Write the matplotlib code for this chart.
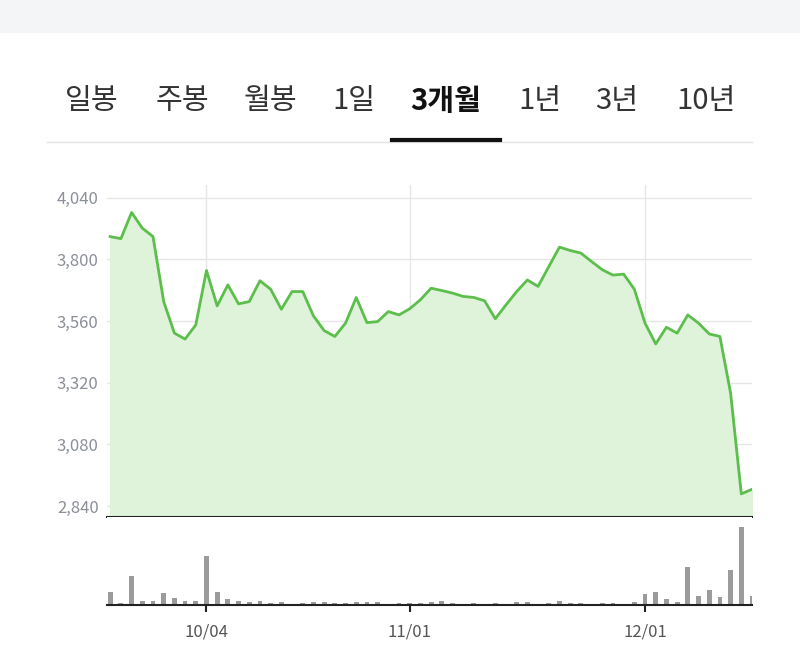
import matplotlib as mpl
import matplotlib.pyplot as plt
from matplotlib.patches import Rectangle

mpl.use('Agg')
plt.rcParams['font.family'] = ['Noto Sans CJK KR', 'DejaVu Sans']

# 종가 (61 거래일)
prices = [3889, 3881, 3983, 3922, 3889, 3636, 3513, 3490, 3545, 3757,
          3619, 3701, 3627, 3636, 3717, 3684, 3606, 3675, 3675, 3580,
          3523, 3500, 3552, 3652, 3554, 3558, 3597, 3584, 3608, 3643,
          3688, 3679, 3669, 3656, 3652, 3639, 3569, 3623, 3675, 3720,
          3695, 3772, 3848, 3835, 3825, 3792, 3760, 3739, 3743, 3684,
          3552, 3471, 3536, 3513, 3584, 3552, 3510, 3500, 3279, 2887, 2905]
volumes = [38, 6, 85, 13, 13, 36, 21, 13, 11, 146,
           38, 18, 13, 10, 11, 7, 10, 3, 7, 10,
           10, 7, 7, 10, 10, 10, 3, 6, 6, 6,
           10, 13, 6, 3, 6, 3, 6, 3, 10, 10,
           3, 6, 13, 6, 6, 3, 6, 6, 3, 10,
           32, 38, 18, 10, 111, 28, 43, 25, 103, 230, 28]
date_idx = [9, 28, 50]
date_labels = ['10/04', '11/01', '12/01']
yticks = [2840, 3080, 3320, 3560, 3800, 4040]
tabs = ['일봉', '주봉', '월봉', '1일', '3개월', '1년', '3년', '10년']
tab_x = [92, 182, 271, 354, 446, 540, 617, 706]

W, H = 800, 662
fig = plt.figure(figsize=(8, 6.62), dpi=100)

def fx(px): return px / W
def fy(py): return 1 - py / H

# 상단 회색 바
fig.patches.append(Rectangle((0, fy(32)), 1, 32 / H, transform=fig.transFigure,
                             color='#f4f5f7', zorder=0))
for t, x in zip(tabs, tab_x):
    sel = t == '3개월'
    fig.text(fx(x), fy(101), t, ha='center', va='center', fontsize=21,
             color='#111111' if sel else '#333333',
             fontweight='bold' if sel else 'medium')
fig.add_artist(plt.Line2D([fx(47), fx(752)], [fy(142), fy(142)],
                          transform=fig.transFigure, color='#e3e3e3', lw=1))
fig.add_artist(plt.Line2D([fx(392), fx(500)], [fy(140), fy(140)],
                          transform=fig.transFigure, color='#111111', lw=3))

x = list(range(len(prices)))
left, right = fx(107), fx(752)

ax = fig.add_axes([left, fy(517), right - left, (517 - 185) / H])
ax.plot(x, prices, color='#5cbf4c', lw=2, zorder=3)
ax.fill_between(x, prices, 2700, color='#dff3db', zorder=2)
ax.set_xlim(-0.3, len(prices) - 1)
ax.set_ylim(2797, 4090)
ax.set_yticks(yticks)
ax.set_yticklabels([f'{v:,}' for v in yticks], color='#8a8f99', fontsize=12)
ax.set_xticks(date_idx)
ax.set_xticklabels([])
ax.tick_params(length=0, pad=6)
ax.grid(True, color='#e6e6e6', lw=1)
ax.set_axisbelow(True)
for s in ['top', 'left', 'right']:
    ax.spines[s].set_visible(False)
ax.spines['bottom'].set_color('#222222')
ax.spines['bottom'].set_linewidth(1.5)
ax.spines['bottom'].set_zorder(5)

vax = fig.add_axes([left, fy(605), right - left, (605 - 517) / H])
vax.bar(x, volumes, width=0.45, color='#9b9b9b')
vax.set_xlim(-0.3, len(prices) - 1)
vax.set_ylim(0, 260)
vax.set_yticks([])
vax.set_xticks(date_idx)
vax.set_xticklabels(date_labels, color='#555555', fontsize=12)
vax.tick_params(axis='x', length=5, width=1.5, color='#222222', pad=8)
for s in ['top', 'left', 'right']:
    vax.spines[s].set_visible(False)
vax.spines['bottom'].set_color('#222222')
vax.spines['bottom'].set_linewidth(1.5)

fig.savefig('out.png', dpi=100)
